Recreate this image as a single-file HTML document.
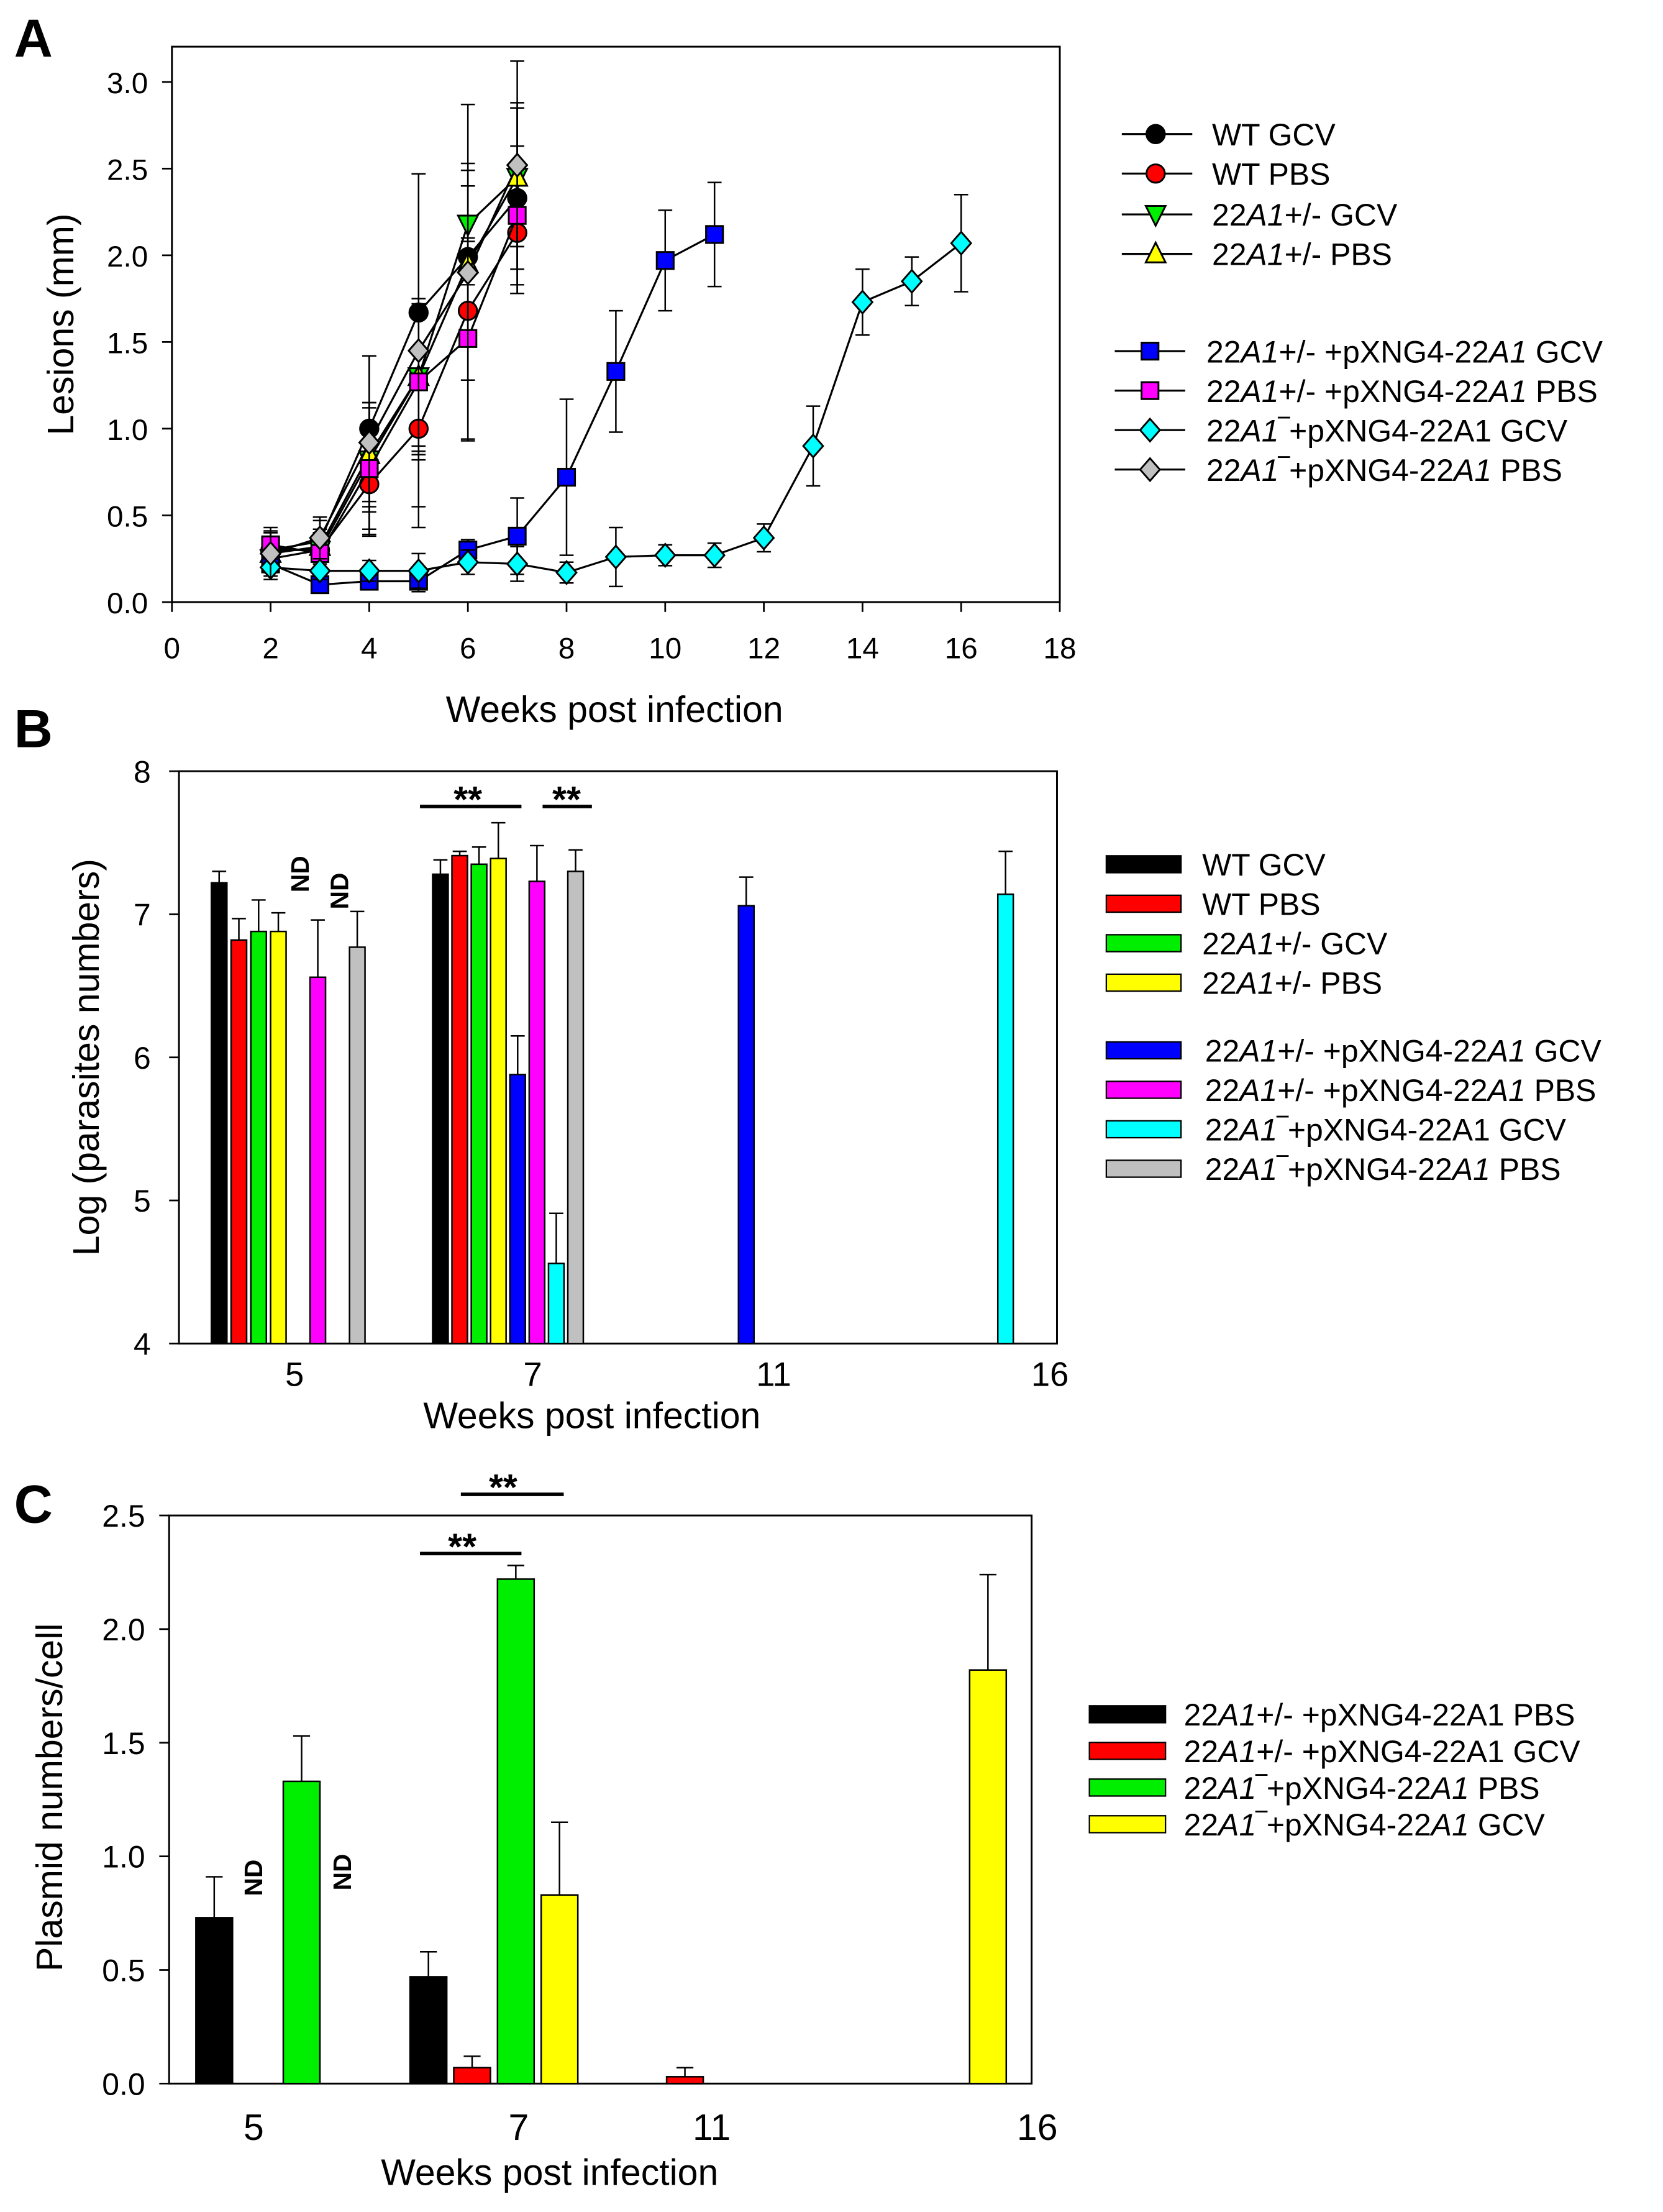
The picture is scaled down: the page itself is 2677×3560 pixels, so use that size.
<!DOCTYPE html>
<html><head><meta charset="utf-8">
<style>
html,body{margin:0;padding:0;background:#fff;}
svg{display:block;font-family:"Liberation Sans",sans-serif;}
</style></head>
<body>
<svg id="fig" xmlns="http://www.w3.org/2000/svg" width="2677" height="3560" viewBox="0 0 1180 1569">
<rect x="0" y="0" width="1180" height="1569" fill="#fff"/>
<text x="10" y="40" font-size="38" font-weight="bold">A</text>
<text x="10" y="530" font-size="38" font-weight="bold">B</text>
<text x="10" y="1080" font-size="38" font-weight="bold">C</text>
<g id="pa"></g>
<g id="pb"></g>
<g id="pc"></g>
</svg>
<script>
// ---------- Panel A data ----------
const aWeeksShort = [2,3,4,5,6,7];
const aWeeksBlue = [2,3,4,5,6,7,8,9,10,11];
const aWeeksCyan = [2,3,4,5,6,7,8,9,10,11,12,13,14,15,16];
const aWtGcv = [0.30,0.35,1.00,1.67,1.99,2.33];
const aWtGcvErr = [0.10,0.12,0.42,0.80,0.50,0.55];
const aWtPbs = [0.30,0.30,0.68,1.00,1.68,2.13];
const aWtPbsErr = [0.10,0.10,0.30,0.45,0.40,0.35];
const aHetGcv = [0.25,0.30,0.82,1.30,2.18,2.45];
const aHetGcvErr = [0.08,0.10,0.30,0.45,0.35,0.40];
const aHetPbs = [0.28,0.32,0.85,1.30,1.95,2.45];
const aHetPbsErr = [0.08,0.10,0.30,0.40,0.45,0.40];
const aBlue = [0.22,0.10,0.12,0.12,0.30,0.38,0.72,1.33,1.97,2.12];
const aBlueErr = [0.05,0.03,0.04,0.06,0.06,0.22,0.45,0.35,0.29,0.30];
const aMag = [0.33,0.28,0.77,1.27,1.52,2.23];
const aMagErr = [0.08,0.10,0.38,0.45,0.58,0.40];
const aCyan = [0.20,0.18,0.18,0.18,0.23,0.22,0.17,0.26,0.27,0.27,0.37,0.90,1.73,1.85,2.07];
const aCyanErr = [0.05,0.05,0.06,0.10,0.07,0.10,0.06,0.17,0.06,0.07,0.08,0.23,0.19,0.14,0.28];
const aGrey = [0.28,0.37,0.92,1.45,1.90,2.52];
const aGreyErr = [0.15,0.12,0.50,1.02,0.97,0.60];
const aXTicks = [0,2,4,6,8,10,12,14,16,18];
const aYTicks = [0.0,0.5,1.0,1.5,2.0,2.5,3.0];

// ---------- Panel B data ----------
const bCats = ["5","7","11","16"];
const bSeriesNames = ["WT GCV","WT PBS","22A1+/- GCV","22A1+/- PBS","22A1+/- +pXNG4-22A1 GCV","22A1+/- +pXNG4-22A1 PBS","22A1- +pXNG4-22A1 GCV","22A1- +pXNG4-22A1 PBS"];
const bWeek5 = [7.22,6.82,6.88,6.88,null,6.56,null,6.77];
const bWeek5Err = [0.08,0.15,0.22,0.13,0,0.40,0,0.25];
const bWeek7 = [7.28,7.41,7.35,7.39,5.88,7.23,4.56,7.30];
const bWeek7Err = [0.10,0.03,0.12,0.25,0.27,0.25,0.35,0.15];
const bWeek11 = [null,null,null,null,7.06,null,null,null];
const bWeek11Err = [0,0,0,0,0.20,0,0,0];
const bWeek16 = [null,null,null,null,null,null,7.14,null];
const bWeek16Err = [0,0,0,0,0,0,0.30,0];
const bYTicks = [4,5,6,7,8];

// ---------- Panel C data ----------
const cCats = ["5","7","11","16"];
const cWeek5 = [0.73,null,1.33,null];
const cWeek5Err = [0.18,0,0.20,0];
const cWeek7 = [0.47,0.07,2.22,0.83];
const cWeek7Err = [0.11,0.05,0.06,0.32];
const cWeek11 = [null,0.03,null,null];
const cWeek11Err = [0,0.04,0,0];
const cWeek16 = [null,null,null,1.82];
const cWeek16Err = [0,0,0,0.42];
const cYTicks = [0.0,0.5,1.0,1.5,2.0,2.5];

const NS = "http://www.w3.org/2000/svg";
function mk(parent, tag, attrs){
  const el = document.createElementNS(NS, tag);
  for (const k in attrs) el.setAttribute(k, attrs[k]);
  parent.appendChild(el);
  return el;
}
function richText(parent, x, y, parts, size, anchor){
  const t = mk(parent, "text", {x:x, y:y, "font-size":size, "text-anchor":anchor||"start"});
  parts.forEach(p=>{
    const s = document.createElementNS(NS,"tspan");
    if (p[1]) s.setAttribute("font-style","italic");
    s.textContent = p[0];
    t.appendChild(s);
  });
  return t;
}
const legendA = [
  [["WT GCV",0]],[["WT PBS",0]],[["22",0],["A1",1],["+/- GCV",0]],[["22",0],["A1",1],["+/- PBS",0]],
  [["22",0],["A1",1],["+/- +pXNG4-22",0],["A1",1],[" GCV",0]],
  [["  22",0],["A1",1],["+/- +pXNG4-22",0],["A1",1],[" PBS",0]],
  [["22",0],["A1",1],["\u203E+pXNG4-22A1 GCV",0]],
  [["22",0],["A1",1],["\u203E+pXNG4-22",0],["A1",1],[" PBS",0]]
];

// ================= Panel A =================
(function(){
  const g = document.getElementById("pa");
  const X0=122,X1=752,Y0=427,Y1=33;
  const xs = v => X0 + v*(X1-X0)/18;
  const ys = v => Y0 - v*(Y0-58)/3.0;
  const frame = mk(g,"rect",{x:X0,y:Y1,width:X1-X0,height:Y0-Y1,fill:"none",stroke:"#000","stroke-width":1.3});
  
  
  aXTicks.forEach(v=>{
    mk(g,"line",{x1:xs(v),x2:xs(v),y1:Y0,y2:Y0+7,stroke:"#000","stroke-width":1.2});
    const t = mk(g,"text",{x:xs(v),y:Y0+40,"font-size":21,"text-anchor":"middle"});
    t.textContent = v;
    
    
  });
  aYTicks.forEach(v=>{
    mk(g,"line",{x1:X0-7,x2:X0,y1:ys(v),y2:ys(v),stroke:"#000","stroke-width":1.2});
    const t = mk(g,"text",{x:X0-17,y:ys(v)+8,"font-size":21,"text-anchor":"end"});
    t.textContent = v.toFixed(1);
    
    
  });
  const xt = mk(g,"text",{x:436,y:512,"font-size":26,"text-anchor":"middle"});
  xt.textContent = "Weeks post infection";
  
  
  const yt = mk(g,"text",{x:0,y:0,"font-size":26,"text-anchor":"middle",transform:"translate(52,230) rotate(-90)"});
  yt.textContent = "Lesions (mm)";
  
  

  const series = [
    {w:aWeeksShort,v:aWtGcv,e:aWtGcvErr,fill:"#000",shape:"circle",name:"wt-gcv"},
    {w:aWeeksShort,v:aWtPbs,e:aWtPbsErr,fill:"#ff0000",shape:"circle",name:"wt-pbs"},
    {w:aWeeksShort,v:aHetGcv,e:aHetGcvErr,fill:"#00ee00",shape:"tdown",name:"het-gcv"},
    {w:aWeeksShort,v:aHetPbs,e:aHetPbsErr,fill:"#ffff00",shape:"tup",name:"het-pbs"},
    {w:aWeeksBlue,v:aBlue,e:aBlueErr,fill:"#0000ff",shape:"square",name:"het-plasmid-gcv"},
    {w:aWeeksShort,v:aMag,e:aMagErr,fill:"#ff00ff",shape:"square",name:"het-plasmid-pbs"},
    {w:aWeeksCyan,v:aCyan,e:aCyanErr,fill:"#00ffff",shape:"diamond",name:"ko-plasmid-gcv"},
    {w:aWeeksShort,v:aGrey,e:aGreyErr,fill:"#c0c0c0",shape:"diamond",name:"ko-plasmid-pbs"}
  ];
  function marker(par,shape,cx,cy,fill){
    let m;
    if(shape==="circle") m=mk(par,"circle",{cx:cx,cy:cy,r:6.5});
    else if(shape==="square") m=mk(par,"rect",{x:cx-6,y:cy-6,width:12,height:12});
    else if(shape==="tdown") m=mk(par,"polygon",{points:`${cx-7},${cy-6} ${cx+7},${cy-6} ${cx},${cy+8}`});
    else if(shape==="tup") m=mk(par,"polygon",{points:`${cx-7},${cy+6} ${cx+7},${cy+6} ${cx},${cy-8}`});
    else m=mk(par,"polygon",{points:`${cx},${cy-8} ${cx+7},${cy} ${cx},${cy+8} ${cx-7},${cy}`});
    m.setAttribute("fill",fill); m.setAttribute("stroke","#000"); m.setAttribute("stroke-width",1.3);
    return m;
  }
  series.forEach(s=>{
    const sg = mk(g,"g",{});
    
    
    s.g = sg;
    s.w.forEach((w,i)=>{
      const x=xs(w),y1=ys(s.v[i]+s.e[i]),y2=ys(Math.max(0,s.v[i]-s.e[i]));
      mk(sg,"line",{x1:x,x2:x,y1:y1,y2:y2,stroke:"#000","stroke-width":1.1});
      mk(sg,"line",{x1:x-5,x2:x+5,y1:y1,y2:y1,stroke:"#000","stroke-width":1.1});
      mk(sg,"line",{x1:x-5,x2:x+5,y1:y2,y2:y2,stroke:"#000","stroke-width":1.1});
    });
    const pts = s.w.map((w,i)=>xs(w)+","+ys(s.v[i])).join(" ");
    const pl = mk(sg,"polyline",{points:pts,fill:"none",stroke:"#000","stroke-width":1.4});
    
    
  });
  series.forEach(s=>{
    s.w.forEach((w,i)=>{
      const m = marker(s.g,s.shape,xs(w),ys(s.v[i]),s.fill);
      
      
    });
  });
  const legY = [95,123,152,180,249,277,305,333];
  series.forEach((s,i)=>{
    const lg = mk(g,"g",{});
    
    
    const lx0 = i<4?796:791, lx1 = i<4?846:841, mx = i<4?820:816;
    mk(lg,"line",{x1:lx0,x2:lx1,y1:legY[i],y2:legY[i],stroke:"#000","stroke-width":1.4});
    marker(lg,s.shape,mx,legY[i],s.fill);
    richText(lg,i<4?860:856,legY[i]+8,legendA[i],22);
  });
})();

// ================= Panel B =================
(function(){
  const g = document.getElementById("pb");
  const X0=127,X1=750,Y0=953,Y1=547;
  const ys = v => Y0 - (v-4)*(Y0-Y1)/4;
  const colors = ["#000000","#ff0000","#00ee00","#ffff00","#0000ff","#ff00ff","#00ffff","#c0c0c0"];
  const catX = [209,378,549,745];
  const groupStart = [150,307,468,624];
  const slot = [14,13.7,14,14];
  const bw = 11;
  const frame = mk(g,"rect",{x:X0,y:Y1,width:X1-X0,height:Y0-Y1,fill:"none",stroke:"#000","stroke-width":1.3});
  
  
  bYTicks.forEach(v=>{
    mk(g,"line",{x1:X0-7,x2:X0,y1:ys(v),y2:ys(v),stroke:"#000","stroke-width":1.2});
    const t = mk(g,"text",{x:X0-20,y:ys(v)+8,"font-size":22,"text-anchor":"end"});
    t.textContent = v;
    
    
  });
  bCats.forEach((c,i)=>{
    const t = mk(g,"text",{x:catX[i],y:Y0+30,"font-size":24,"text-anchor":"middle"});
    t.textContent = c;
    
    
  });
  const xt = mk(g,"text",{x:420,y:1013,"font-size":26,"text-anchor":"middle"});
  xt.textContent = "Weeks post infection";
  
  
  const yt = mk(g,"text",{x:0,y:0,"font-size":26,"text-anchor":"middle",transform:"translate(70,750) rotate(-90)"});
  yt.textContent = "Log (parasites numbers)";
  
  
  const vals = [bWeek5,bWeek7,bWeek11,bWeek16];
  const errs = [bWeek5Err,bWeek7Err,bWeek11Err,bWeek16Err];
  vals.forEach((arr,ci)=>{
    arr.forEach((v,si)=>{
      if(v===null) return;
      const x = groupStart[ci]+slot[ci]*si;
      const yt2 = ys(v+errs[ci][si]);
      mk(g,"line",{x1:x+bw/2,x2:x+bw/2,y1:yt2,y2:ys(v),stroke:"#000","stroke-width":1.1});
      mk(g,"line",{x1:x+bw/2-5,x2:x+bw/2+5,y1:yt2,y2:yt2,stroke:"#000","stroke-width":1.1});
      const r = mk(g,"rect",{x:x,y:ys(v),width:bw,height:Y0-ys(v),fill:colors[si],stroke:"#000","stroke-width":1.1});
      
      
    });
  });
  [[213,620],[241,632]].forEach(p=>{
    const t = mk(g,"text",{x:0,y:0,"font-size":18,"font-weight":"bold","text-anchor":"middle",transform:`translate(${p[0]+6},${p[1]}) rotate(-90)`});
    t.textContent = "ND";
    
    
  });
  [[298,370,572,332],[385,420,572,402]].forEach(p=>{
    const l = mk(g,"line",{x1:p[0],x2:p[1],y1:p[2],y2:p[2],stroke:"#000","stroke-width":2.5});
    
    
    const t = mk(g,"text",{x:p[3],y:p[2]+4,"font-size":26,"font-weight":"bold","text-anchor":"middle"});
    t.textContent = "**";
    
    
  });
  const legY=[613,641,669,697,745,773,801,829];
  bSeriesNames.forEach((n,i)=>{
    const lg = mk(g,"g",{});
    
    
    mk(lg,"rect",{x:785,y:legY[i]-6,width:53,height:12,fill:colors[i],stroke:"#000","stroke-width":1});
    richText(lg,i<4?853:855,legY[i]+8,legendA[i].map(p=>[p[0].replace(/^  /,""),p[1]]),22);
  });
})();

// ================= Panel C =================
(function(){
  const g = document.getElementById("pc");
  const X0=120,X1=732,Y0=1478,Y1=1075;
  const ys = v => Y0 - v*(Y0-Y1)/2.5;
  const colors = ["#000000","#ff0000","#00ee00","#ffff00"];
  const catX = [180,368,505,736];
  const groupStart = [139,291,442,595];
  const slot = 31, bw = 26;
  const frame = mk(g,"rect",{x:X0,y:Y1,width:X1-X0,height:Y0-Y1,fill:"none",stroke:"#000","stroke-width":1.3});
  
  
  cYTicks.forEach(v=>{
    mk(g,"line",{x1:X0-7,x2:X0,y1:ys(v),y2:ys(v),stroke:"#000","stroke-width":1.2});
    const t = mk(g,"text",{x:X0-17,y:ys(v)+8,"font-size":22,"text-anchor":"end"});
    t.textContent = v.toFixed(1);
    
    
  });
  cCats.forEach((c,i)=>{
    const t = mk(g,"text",{x:catX[i],y:Y0+40,"font-size":26,"text-anchor":"middle"});
    t.textContent = c;
    
    
  });
  const xt = mk(g,"text",{x:390,y:1550,"font-size":26,"text-anchor":"middle"});
  xt.textContent = "Weeks post infection";
  
  
  const yt = mk(g,"text",{x:0,y:0,"font-size":26,"text-anchor":"middle",transform:"translate(44,1275) rotate(-90)"});
  yt.textContent = "Plasmid numbers/cell";
  
  
  const vals=[cWeek5,cWeek7,cWeek11,cWeek16], errs=[cWeek5Err,cWeek7Err,cWeek11Err,cWeek16Err];
  vals.forEach((arr,ci)=>{
    arr.forEach((v,si)=>{
      if(v===null) return;
      const x = groupStart[ci]+slot*si;
      const yt2 = ys(v+errs[ci][si]);
      mk(g,"line",{x1:x+bw/2,x2:x+bw/2,y1:yt2,y2:ys(v),stroke:"#000","stroke-width":1.1});
      mk(g,"line",{x1:x+bw/2-6,x2:x+bw/2+6,y1:yt2,y2:yt2,stroke:"#000","stroke-width":1.1});
      const r = mk(g,"rect",{x:x,y:ys(v),width:bw,height:Y0-ys(v),fill:colors[si],stroke:"#000","stroke-width":1.1});
      
      
    });
  });
  [[180,1332],[243,1328]].forEach(p=>{
    const t = mk(g,"text",{x:0,y:0,"font-size":18,"font-weight":"bold","text-anchor":"middle",transform:`translate(${p[0]+6},${p[1]}) rotate(-90)`});
    t.textContent = "ND";
    
    
  });
  [[298,370,1102,328],[327,400,1060,357]].forEach(p=>{
    const l = mk(g,"line",{x1:p[0],x2:p[1],y1:p[2],y2:p[2],stroke:"#000","stroke-width":2.5});
    
    
    const t = mk(g,"text",{x:p[3],y:p[2]+4,"font-size":26,"font-weight":"bold","text-anchor":"middle"});
    t.textContent = "**";
    
    
  });
  const legTxt = [
    [["22",0],["A1",1],["+/- +pXNG4-22A1 PBS",0]],
    [["22",0],["A1",1],["+/- +pXNG4-22A1 GCV",0]],
    [["22",0],["A1",1],["\u203E+pXNG4-22",0],["A1",1],[" PBS",0]],
    [["22",0],["A1",1],["\u203E+pXNG4-22",0],["A1",1],[" GCV",0]]
  ];
  const legY=[1216,1242,1268,1294];
  legTxt.forEach((t,i)=>{
    const lg = mk(g,"g",{});
    
    
    mk(lg,"rect",{x:773,y:legY[i]-6,width:54,height:12,fill:colors[i],stroke:"#000","stroke-width":1});
    richText(lg,840,legY[i]+8,t,22);
  });
})();
</script>
</body></html>
